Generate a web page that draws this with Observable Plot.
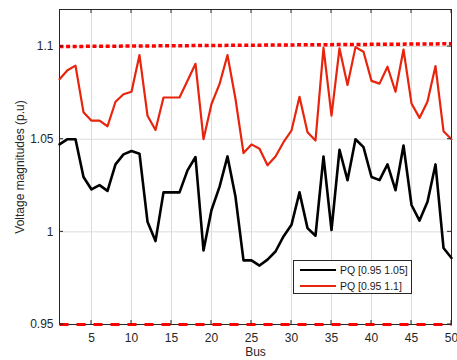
<!DOCTYPE html>
<html>
<head>
<meta charset="utf-8">
<script src="https://cdn.jsdelivr.net/npm/d3@7"></script>
<script src="https://cdn.jsdelivr.net/npm/@observablehq/plot@0.6"></script>
<style>
  html, body { margin: 0; padding: 0; background: #fff; }
  #wrap { position: relative; width: 457px; height: 360px; font-family: "Liberation Sans", Arial, sans-serif; }
  #legend { position: absolute; left: 293px; top: 260px; width: 117px; height: 32px; border: 1px solid #262626; background: #fff; font-size: 10.5px; color: #1a1a1a; }
  .row { position: absolute; left: 6px; height: 14px; display: flex; align-items: center; }
  .sw { width: 36px; margin-right: 4px; }
</style>
</head>
<body>
<div id="wrap"></div>
<script>
const bus = d3.range(1, 51);
const pq105 = [1.0472, 1.05, 1.05, 1.0296, 1.0229, 1.0252, 1.0221, 1.0364, 1.0418, 1.0436,
  1.0422, 1.0055, 0.995, 1.0213, 1.0213, 1.0213, 1.0332, 1.0404, 0.990, 1.0118,
  1.0243, 1.0407, 1.0189, 0.9846, 0.9846, 0.9818, 0.985, 0.9894, 0.9975, 1.0038,
  1.0213, 1.002, 0.9979, 1.0407, 1.001, 1.0443, 1.0279, 1.05, 1.0457, 1.0296,
  1.0279, 1.0364, 1.0225, 1.0466, 1.0145, 1.0061, 1.0162, 1.0364, 0.9913, 0.9859];
const pq11 = [1.0824, 1.0872, 1.0897, 1.0645, 1.060, 1.060, 1.057, 1.0702, 1.0743, 1.0756,
  1.0954, 1.0627, 1.055, 1.0725, 1.0725, 1.0725, 1.0815, 1.0907, 1.050, 1.069,
  1.0797, 1.0954, 1.0717, 1.0425, 1.0472, 1.0449, 1.0359, 1.0407, 1.0484, 1.0547,
  1.0729, 1.0538, 1.0493, 1.0993, 1.0627, 1.099, 1.0793, 1.0997, 1.0972, 1.0815,
  1.080, 1.0891, 1.0756, 1.0984, 1.0693, 1.0615, 1.0704, 1.0895, 1.0543, 1.050];
const limitBus = [1, 50];
const upperLimit = [1.1, 1.1015];
const lowerLimit = [0.95, 0.95];
const xTicks = [5, 10, 15, 20, 25, 30, 35, 40, 45, 50];
const yTicks = [0.95, 1, 1.05, 1.1];
const seriesNames = ["PQ [0.95 1.05]", "PQ [0.95 1.1]"];
const colors = ["#000000", "#e8240c"];

const black = bus.map((b, i) => ({b, v: pq105[i]}));
const red = bus.map((b, i) => ({b, v: pq11[i]}));
const up = limitBus.map((b, i) => ({b, v: upperLimit[i]}));
const low = limitBus.map((b, i) => ({b, v: lowerLimit[i]}));

const chart = Plot.plot({
  width: 457,
  height: 360,
  marginLeft: 59,
  marginRight: 6,
  marginTop: 9,
  marginBottom: 36,
  style: {fontFamily: "'Liberation Sans', Arial, sans-serif", fontSize: "12px", color: "#262626", background: "#fff"},
  x: {domain: [1, 50], ticks: xTicks},
  y: {domain: [0.95, 1.12], ticks: yTicks},
  marks: [
    Plot.gridX(xTicks, {stroke: "#dcdcdc", strokeOpacity: 1}),
    Plot.gridY(yTicks, {stroke: "#dcdcdc", strokeOpacity: 1}),
    Plot.frame({stroke: "#262626", strokeWidth: 1}),
    Plot.line(red, {x: "b", y: "v", stroke: colors[1], strokeWidth: 2.2}),
    Plot.line(black, {x: "b", y: "v", stroke: colors[0], strokeWidth: 2.6}),
    Plot.line(up, {x: "b", y: "v", stroke: "#ff0000", strokeWidth: 3.5, strokeDasharray: "4,2.6", strokeLinecap: "butt"}),
    Plot.line(low, {x: "b", y: "v", stroke: "#ff0000", strokeWidth: 3, strokeDasharray: "9,8", strokeLinecap: "butt"}),
    Plot.axisX(xTicks, {tickSize: 0, tickPadding: 9, label: "Bus", labelAnchor: "center", labelArrow: "none", labelOffset: 31, fontSize: 12}),
    Plot.axisY(yTicks, {tickSize: 0, tickPadding: 6, tickFormat: d => String(d), label: "Voltage magnitudes (p.u)", labelAnchor: "center", labelArrow: "none", labelOffset: 44, fontSize: 12})
  ]
});
const wrap = document.getElementById("wrap");
wrap.appendChild(chart);

// inward ticks placed through the scales
const sx = chart.scale("x"), sy = chart.scale("y");
const svg = d3.select(chart);
const g = svg.append("g").attr("stroke", "#262626");
const x0 = sx.range[0], x1 = sx.range[1], y0 = sy.range[0], y1 = sy.range[1];
yTicks.forEach(t => {
  const y = sy.apply(t);
  g.append("line").attr("x1", x0).attr("x2", x0 + 4).attr("y1", y).attr("y2", y);
  g.append("line").attr("x1", x1).attr("x2", x1 - 4).attr("y1", y).attr("y2", y);
});
xTicks.forEach(t => {
  const x = sx.apply(t);
  g.append("line").attr("x1", x).attr("x2", x).attr("y1", y0).attr("y2", y0 - 4);
  g.append("line").attr("x1", x).attr("x2", x).attr("y1", y1).attr("y2", y1 + 4);
});

const legend = document.createElement("div");
legend.id = "legend";
seriesNames.forEach((name, i) => {
  const row = document.createElement("div");
  row.className = "row";
  row.style.top = (2 + i * 16) + "px";
  const sw = document.createElement("div");
  sw.className = "sw";
  sw.style.borderTop = (i === 0 ? 2.5 : 2) + "px solid " + colors[i];
  const tx = document.createElement("span");
  tx.textContent = name;
  row.appendChild(sw);
  row.appendChild(tx);
  legend.appendChild(row);
});
wrap.appendChild(legend);
</script>
</body>
</html>
